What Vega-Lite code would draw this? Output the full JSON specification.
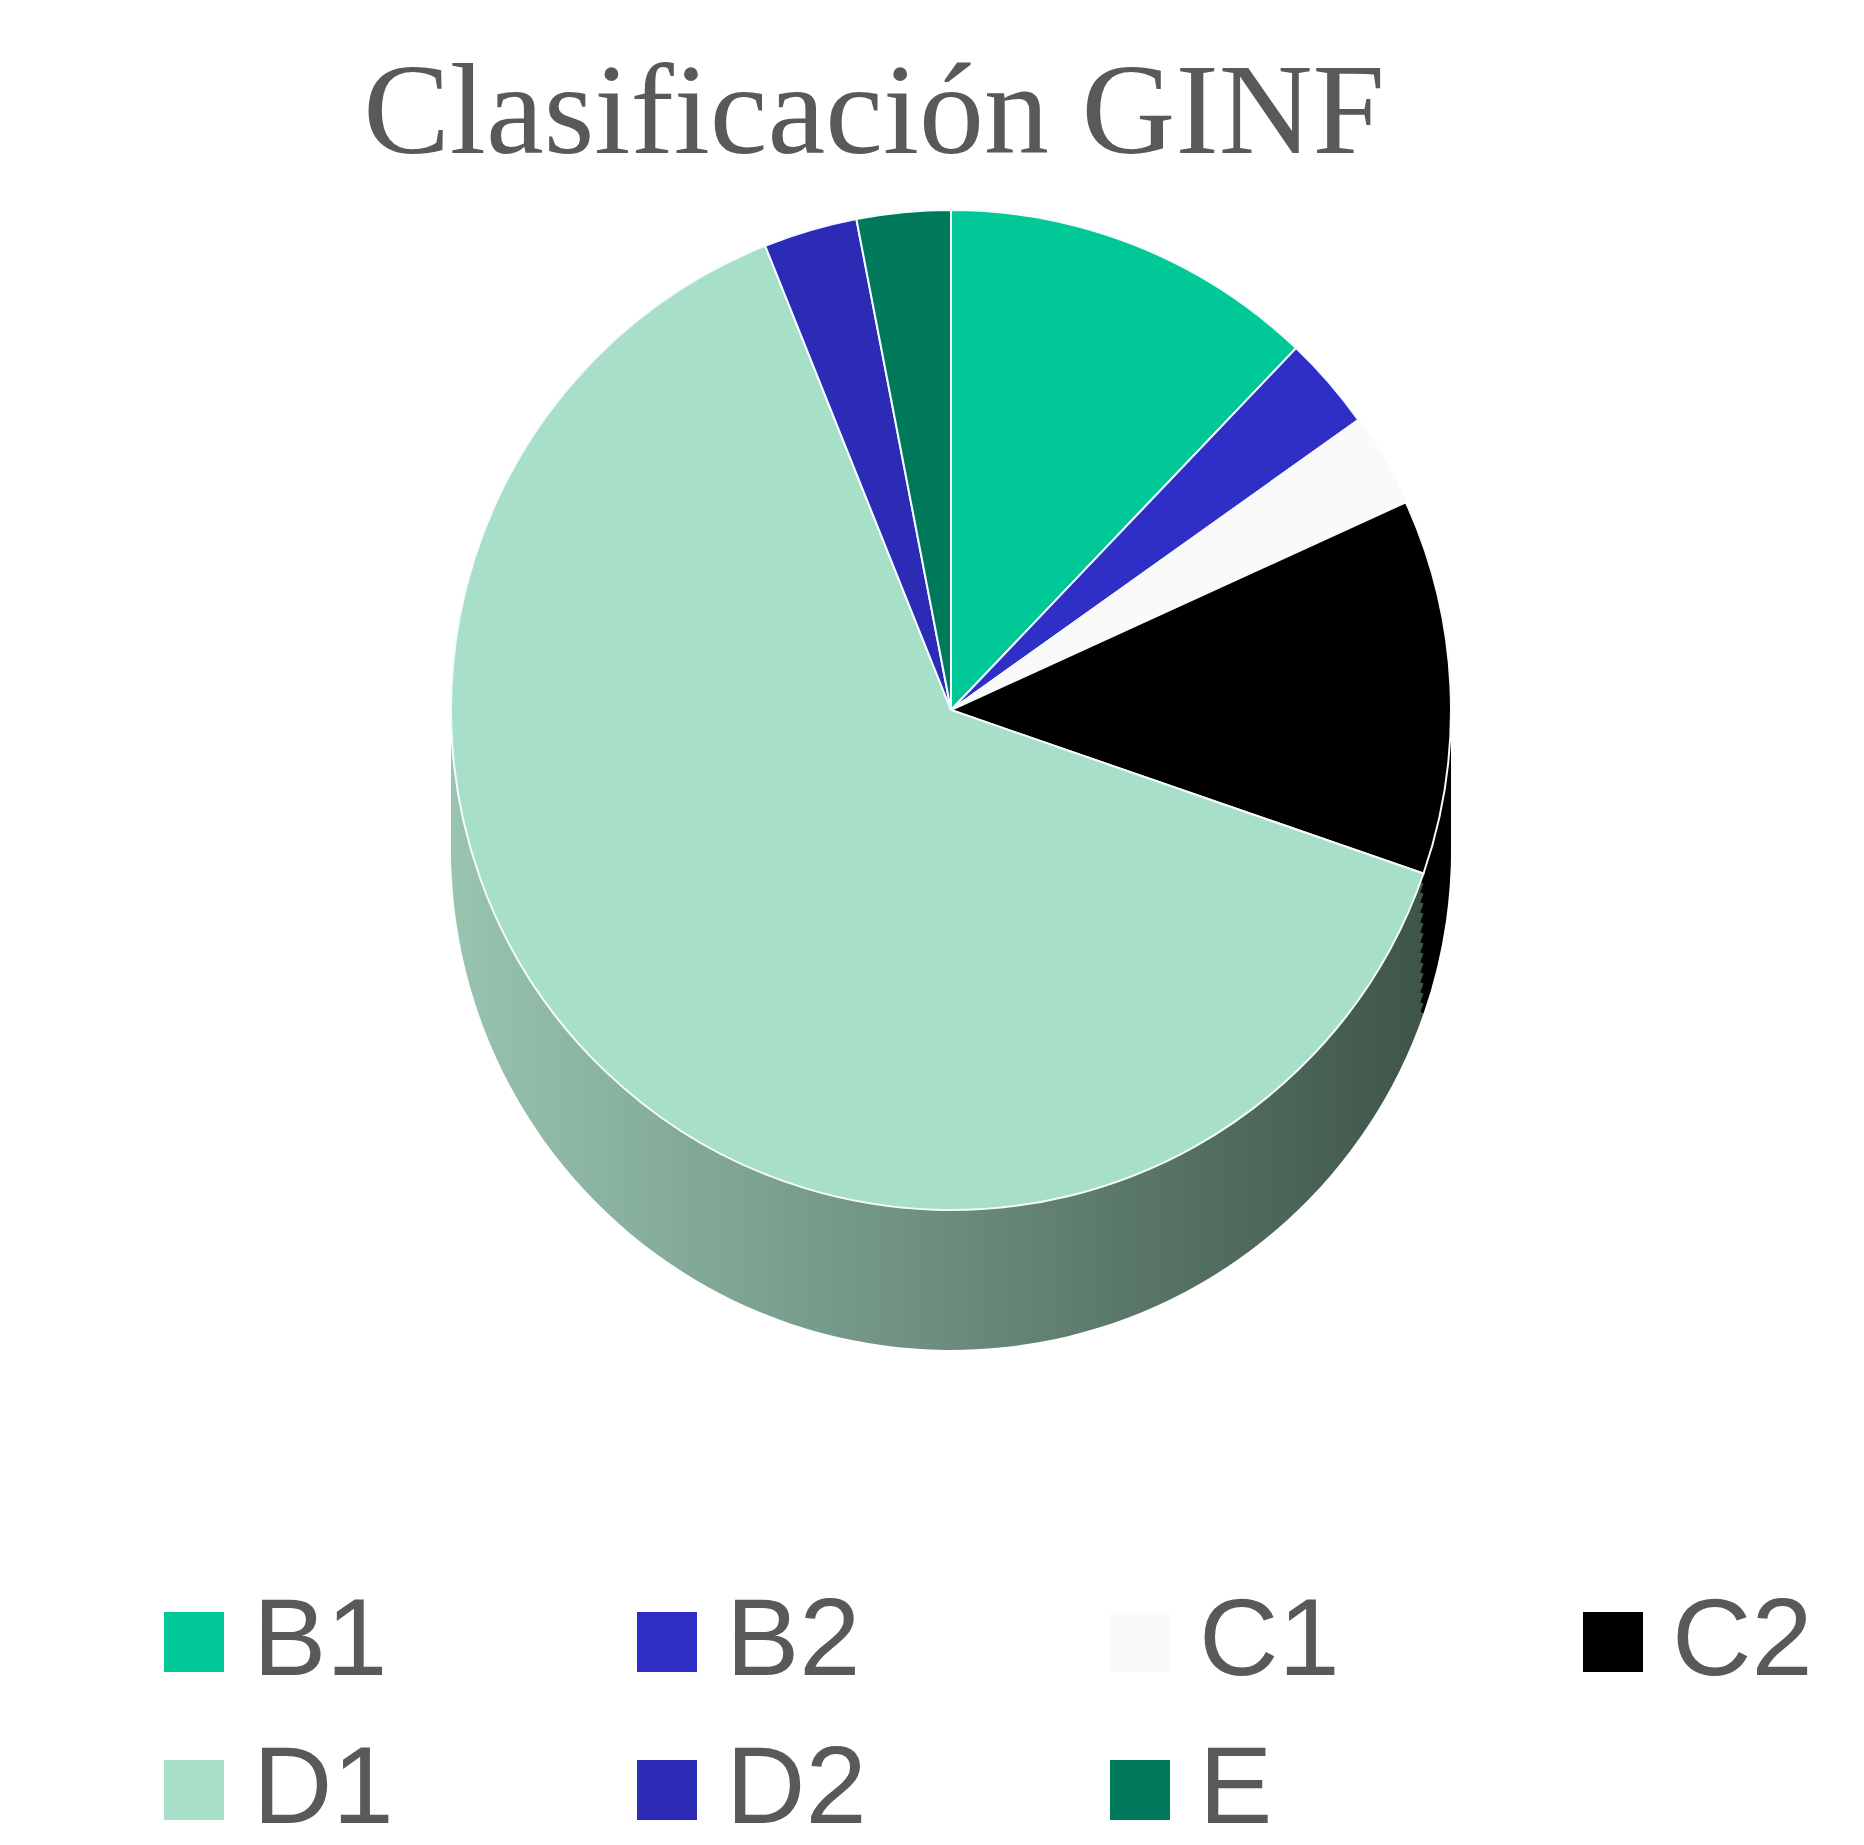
{
  "$schema": "https://vega.github.io/schema/vega-lite/v6.json",
  "width": 1826,
  "height": 1000,
  "autosize": {"type": "none"},
  "padding": {"left": 38, "top": 210, "right": 0, "bottom": 635},
  "background": "white",
  "config": {"view": {"stroke": null}},
  "title": {
    "text": "Clasificación GINF",
    "font": "Liberation Serif",
    "fontSize": 130,
    "fontWeight": "normal",
    "color": "#595959",
    "anchor": "middle",
    "dx": -77,
    "offset": 26
  },
  "data": {
    "values": [
      {"cat": "B1", "v": 4, "order": 1},
      {"cat": "B2", "v": 1, "order": 2},
      {"cat": "C1", "v": 1, "order": 3},
      {"cat": "C2", "v": 4, "order": 4},
      {"cat": "D1", "v": 21, "order": 5},
      {"cat": "D2", "v": 1, "order": 6},
      {"cat": "E", "v": 1, "order": 7}
    ]
  },
  "transform": [
    {"stack": "v", "groupby": [], "sort": [{"field": "order", "order": "ascending"}], "as": ["v0", "v1"]}
  ],
  "layer": [
    {"transform": [{"filter": "datum.cat === 'C2'"}], "mark": {"type": "arc", "radius": 500, "yOffset": 140, "fill": "#000000"}, "encoding": {"theta": {"field": "v0", "type": "quantitative", "scale": {"domain": [0, 33]}}, "theta2": {"field": "v1"}}},
    {"transform": [{"filter": "datum.cat === 'D1'"}], "mark": {"type": "arc", "radius": 500, "yOffset": 140, "fill": {"gradient": "linear", "x1": 0, "y1": 0, "x2": 1, "y2": 0, "stops": [{"offset": 0, "color": "#98c4b0"}, {"offset": 0.5, "color": "#6c8e7e"}, {"offset": 1, "color": "#3e5548"}]}}, "encoding": {"theta": {"field": "v0", "type": "quantitative"}, "theta2": {"field": "v1"}}},
    {"transform": [{"filter": "datum.cat === 'C2'"}], "mark": {"type": "arc", "radius": 500, "yOffset": 130, "fill": "#000000"}, "encoding": {"theta": {"field": "v0", "type": "quantitative"}, "theta2": {"field": "v1"}}},
    {"transform": [{"filter": "datum.cat === 'D1'"}], "mark": {"type": "arc", "radius": 500, "yOffset": 130, "fill": {"gradient": "linear", "x1": 0, "y1": 0, "x2": 1, "y2": 0, "stops": [{"offset": 0, "color": "#98c4b0"}, {"offset": 0.5, "color": "#6c8e7e"}, {"offset": 1, "color": "#3e5548"}]}}, "encoding": {"theta": {"field": "v0", "type": "quantitative"}, "theta2": {"field": "v1"}}},
    {"transform": [{"filter": "datum.cat === 'C2'"}], "mark": {"type": "arc", "radius": 500, "yOffset": 120, "fill": "#000000"}, "encoding": {"theta": {"field": "v0", "type": "quantitative"}, "theta2": {"field": "v1"}}},
    {"transform": [{"filter": "datum.cat === 'D1'"}], "mark": {"type": "arc", "radius": 500, "yOffset": 120, "fill": {"gradient": "linear", "x1": 0, "y1": 0, "x2": 1, "y2": 0, "stops": [{"offset": 0, "color": "#98c4b0"}, {"offset": 0.5, "color": "#6c8e7e"}, {"offset": 1, "color": "#3e5548"}]}}, "encoding": {"theta": {"field": "v0", "type": "quantitative"}, "theta2": {"field": "v1"}}},
    {"transform": [{"filter": "datum.cat === 'C2'"}], "mark": {"type": "arc", "radius": 500, "yOffset": 110, "fill": "#000000"}, "encoding": {"theta": {"field": "v0", "type": "quantitative"}, "theta2": {"field": "v1"}}},
    {"transform": [{"filter": "datum.cat === 'D1'"}], "mark": {"type": "arc", "radius": 500, "yOffset": 110, "fill": {"gradient": "linear", "x1": 0, "y1": 0, "x2": 1, "y2": 0, "stops": [{"offset": 0, "color": "#98c4b0"}, {"offset": 0.5, "color": "#6c8e7e"}, {"offset": 1, "color": "#3e5548"}]}}, "encoding": {"theta": {"field": "v0", "type": "quantitative"}, "theta2": {"field": "v1"}}},
    {"transform": [{"filter": "datum.cat === 'C2'"}], "mark": {"type": "arc", "radius": 500, "yOffset": 100, "fill": "#000000"}, "encoding": {"theta": {"field": "v0", "type": "quantitative"}, "theta2": {"field": "v1"}}},
    {"transform": [{"filter": "datum.cat === 'D1'"}], "mark": {"type": "arc", "radius": 500, "yOffset": 100, "fill": {"gradient": "linear", "x1": 0, "y1": 0, "x2": 1, "y2": 0, "stops": [{"offset": 0, "color": "#98c4b0"}, {"offset": 0.5, "color": "#6c8e7e"}, {"offset": 1, "color": "#3e5548"}]}}, "encoding": {"theta": {"field": "v0", "type": "quantitative"}, "theta2": {"field": "v1"}}},
    {"transform": [{"filter": "datum.cat === 'C2'"}], "mark": {"type": "arc", "radius": 500, "yOffset": 90, "fill": "#000000"}, "encoding": {"theta": {"field": "v0", "type": "quantitative"}, "theta2": {"field": "v1"}}},
    {"transform": [{"filter": "datum.cat === 'D1'"}], "mark": {"type": "arc", "radius": 500, "yOffset": 90, "fill": {"gradient": "linear", "x1": 0, "y1": 0, "x2": 1, "y2": 0, "stops": [{"offset": 0, "color": "#98c4b0"}, {"offset": 0.5, "color": "#6c8e7e"}, {"offset": 1, "color": "#3e5548"}]}}, "encoding": {"theta": {"field": "v0", "type": "quantitative"}, "theta2": {"field": "v1"}}},
    {"transform": [{"filter": "datum.cat === 'C2'"}], "mark": {"type": "arc", "radius": 500, "yOffset": 80, "fill": "#000000"}, "encoding": {"theta": {"field": "v0", "type": "quantitative"}, "theta2": {"field": "v1"}}},
    {"transform": [{"filter": "datum.cat === 'D1'"}], "mark": {"type": "arc", "radius": 500, "yOffset": 80, "fill": {"gradient": "linear", "x1": 0, "y1": 0, "x2": 1, "y2": 0, "stops": [{"offset": 0, "color": "#98c4b0"}, {"offset": 0.5, "color": "#6c8e7e"}, {"offset": 1, "color": "#3e5548"}]}}, "encoding": {"theta": {"field": "v0", "type": "quantitative"}, "theta2": {"field": "v1"}}},
    {"transform": [{"filter": "datum.cat === 'C2'"}], "mark": {"type": "arc", "radius": 500, "yOffset": 70, "fill": "#000000"}, "encoding": {"theta": {"field": "v0", "type": "quantitative"}, "theta2": {"field": "v1"}}},
    {"transform": [{"filter": "datum.cat === 'D1'"}], "mark": {"type": "arc", "radius": 500, "yOffset": 70, "fill": {"gradient": "linear", "x1": 0, "y1": 0, "x2": 1, "y2": 0, "stops": [{"offset": 0, "color": "#98c4b0"}, {"offset": 0.5, "color": "#6c8e7e"}, {"offset": 1, "color": "#3e5548"}]}}, "encoding": {"theta": {"field": "v0", "type": "quantitative"}, "theta2": {"field": "v1"}}},
    {"transform": [{"filter": "datum.cat === 'C2'"}], "mark": {"type": "arc", "radius": 500, "yOffset": 60, "fill": "#000000"}, "encoding": {"theta": {"field": "v0", "type": "quantitative"}, "theta2": {"field": "v1"}}},
    {"transform": [{"filter": "datum.cat === 'D1'"}], "mark": {"type": "arc", "radius": 500, "yOffset": 60, "fill": {"gradient": "linear", "x1": 0, "y1": 0, "x2": 1, "y2": 0, "stops": [{"offset": 0, "color": "#98c4b0"}, {"offset": 0.5, "color": "#6c8e7e"}, {"offset": 1, "color": "#3e5548"}]}}, "encoding": {"theta": {"field": "v0", "type": "quantitative"}, "theta2": {"field": "v1"}}},
    {"transform": [{"filter": "datum.cat === 'C2'"}], "mark": {"type": "arc", "radius": 500, "yOffset": 50, "fill": "#000000"}, "encoding": {"theta": {"field": "v0", "type": "quantitative"}, "theta2": {"field": "v1"}}},
    {"transform": [{"filter": "datum.cat === 'D1'"}], "mark": {"type": "arc", "radius": 500, "yOffset": 50, "fill": {"gradient": "linear", "x1": 0, "y1": 0, "x2": 1, "y2": 0, "stops": [{"offset": 0, "color": "#98c4b0"}, {"offset": 0.5, "color": "#6c8e7e"}, {"offset": 1, "color": "#3e5548"}]}}, "encoding": {"theta": {"field": "v0", "type": "quantitative"}, "theta2": {"field": "v1"}}},
    {"transform": [{"filter": "datum.cat === 'C2'"}], "mark": {"type": "arc", "radius": 500, "yOffset": 40, "fill": "#000000"}, "encoding": {"theta": {"field": "v0", "type": "quantitative"}, "theta2": {"field": "v1"}}},
    {"transform": [{"filter": "datum.cat === 'D1'"}], "mark": {"type": "arc", "radius": 500, "yOffset": 40, "fill": {"gradient": "linear", "x1": 0, "y1": 0, "x2": 1, "y2": 0, "stops": [{"offset": 0, "color": "#98c4b0"}, {"offset": 0.5, "color": "#6c8e7e"}, {"offset": 1, "color": "#3e5548"}]}}, "encoding": {"theta": {"field": "v0", "type": "quantitative"}, "theta2": {"field": "v1"}}},
    {"transform": [{"filter": "datum.cat === 'C2'"}], "mark": {"type": "arc", "radius": 500, "yOffset": 30, "fill": "#000000"}, "encoding": {"theta": {"field": "v0", "type": "quantitative"}, "theta2": {"field": "v1"}}},
    {"transform": [{"filter": "datum.cat === 'D1'"}], "mark": {"type": "arc", "radius": 500, "yOffset": 30, "fill": {"gradient": "linear", "x1": 0, "y1": 0, "x2": 1, "y2": 0, "stops": [{"offset": 0, "color": "#98c4b0"}, {"offset": 0.5, "color": "#6c8e7e"}, {"offset": 1, "color": "#3e5548"}]}}, "encoding": {"theta": {"field": "v0", "type": "quantitative"}, "theta2": {"field": "v1"}}},
    {"transform": [{"filter": "datum.cat === 'C2'"}], "mark": {"type": "arc", "radius": 500, "yOffset": 20, "fill": "#000000"}, "encoding": {"theta": {"field": "v0", "type": "quantitative"}, "theta2": {"field": "v1"}}},
    {"transform": [{"filter": "datum.cat === 'D1'"}], "mark": {"type": "arc", "radius": 500, "yOffset": 20, "fill": {"gradient": "linear", "x1": 0, "y1": 0, "x2": 1, "y2": 0, "stops": [{"offset": 0, "color": "#98c4b0"}, {"offset": 0.5, "color": "#6c8e7e"}, {"offset": 1, "color": "#3e5548"}]}}, "encoding": {"theta": {"field": "v0", "type": "quantitative"}, "theta2": {"field": "v1"}}},
    {"transform": [{"filter": "datum.cat === 'C2'"}], "mark": {"type": "arc", "radius": 500, "yOffset": 10, "fill": "#000000"}, "encoding": {"theta": {"field": "v0", "type": "quantitative"}, "theta2": {"field": "v1"}}},
    {"transform": [{"filter": "datum.cat === 'D1'"}], "mark": {"type": "arc", "radius": 500, "yOffset": 10, "fill": {"gradient": "linear", "x1": 0, "y1": 0, "x2": 1, "y2": 0, "stops": [{"offset": 0, "color": "#98c4b0"}, {"offset": 0.5, "color": "#6c8e7e"}, {"offset": 1, "color": "#3e5548"}]}}, "encoding": {"theta": {"field": "v0", "type": "quantitative"}, "theta2": {"field": "v1"}}},
    {
      "mark": {"type": "arc", "radius": 500, "stroke": "#f4fbff", "strokeWidth": 2},
      "encoding": {
        "theta": {"field": "v0", "type": "quantitative"},
        "theta2": {"field": "v1"},
        "color": {
          "field": "cat", "type": "nominal",
          "scale": {"domain": ["B1", "B2", "C1", "C2", "D1", "D2", "E"], "range": ["#00c896", "#2f2fc8", "#fafafa", "#000000", "#a8dfc8", "#2b2bb5", "#00785a"]},
          "legend": {
            "orient": "none",
            "legendX": 101,
            "legendY": 1377,
            "direction": "horizontal",
            "columns": 4,
            "title": null,
            "symbolType": "square",
            "symbolSize": 3600,
            "symbolStrokeWidth": 0,
            "symbolOpacity": 1,
            "labelFont": "Liberation Sans",
            "labelFontSize": 110,
            "labelColor": "#595959",
            "labelOffset": 4,
            "labelLimit": 0,
            "columnPadding": 218,
            "rowPadding": 38
          }
        }
      }
    }
  ]
}
